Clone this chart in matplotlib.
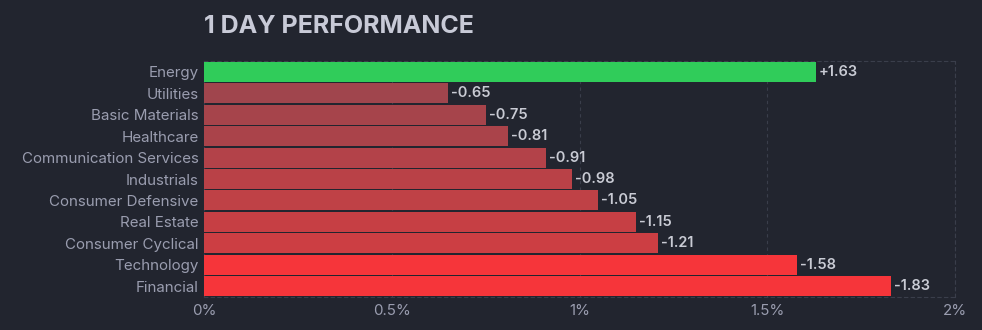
import matplotlib.pyplot as plt

# 1 day sector performance
sectors = ['Energy', 'Utilities', 'Basic Materials', 'Healthcare', 'Communication Services',
           'Industrials', 'Consumer Defensive', 'Real Estate', 'Consumer Cyclical',
           'Technology', 'Financial']
changes = [1.63, -0.65, -0.75, -0.81, -0.91, -0.98, -1.05, -1.15, -1.21, -1.58, -1.83]
colors = ['#30cc5a', '#a0454d', '#a6444b', '#aa434a', '#b34249', '#b94147',
          '#bf4146', '#c63f44', '#cc3e43', '#f6353a', '#f6353a']
xticks = [0, 0.5, 1, 1.5, 2]
xtick_labels = ['0%', '0.5%', '1%', '1.5%', '2%']

bg = '#22252f'
plt.rcParams['font.family'] = ['Inter', 'DejaVu Sans']

fig = plt.figure(figsize=(9.82, 3.30), dpi=100, facecolor=bg)
ax = fig.add_axes([204 / 982, 1 - 297 / 330, 751 / 982, 236 / 330])
ax.set_facecolor(bg)

ypos = list(range(len(sectors)))
ax.barh(ypos, [abs(v) for v in changes], height=0.93, color=colors, zorder=3)
for y, v in zip(ypos, changes):
    ax.text(abs(v) + 0.008, y, f'{v:+.2f}', va='center', ha='left',
            color='#c9cbd4', fontsize=10.5, fontweight='semibold', zorder=4)

ax.set_xlim(0, 2)
ax.set_ylim(len(sectors) - 0.5, -0.5)
ax.set_yticks(ypos)
ax.set_yticklabels(sectors)
ax.set_xticks(xticks)
ax.set_xticklabels(xtick_labels)
ax.tick_params(axis='both', length=0, colors='#9a9daf', labelsize=10.9)
ax.tick_params(axis='y', pad=4)
ax.tick_params(axis='x', pad=5)
ax.grid(axis='x', color='#3a3e4b', linestyle=(0, (3, 3)), linewidth=0.8, zorder=1)
for s in ax.spines.values():
    s.set_color('#3a3e4b')
    s.set_linestyle((0, (3, 3)))
    s.set_linewidth(0.8)

fig.text(204 / 982, 1 - 33 / 330, '1 DAY PERFORMANCE', color='#c8cad7',
         fontsize=18, fontweight='bold', va='baseline', ha='left')

fig.savefig('out.png', dpi=100, facecolor=bg)
